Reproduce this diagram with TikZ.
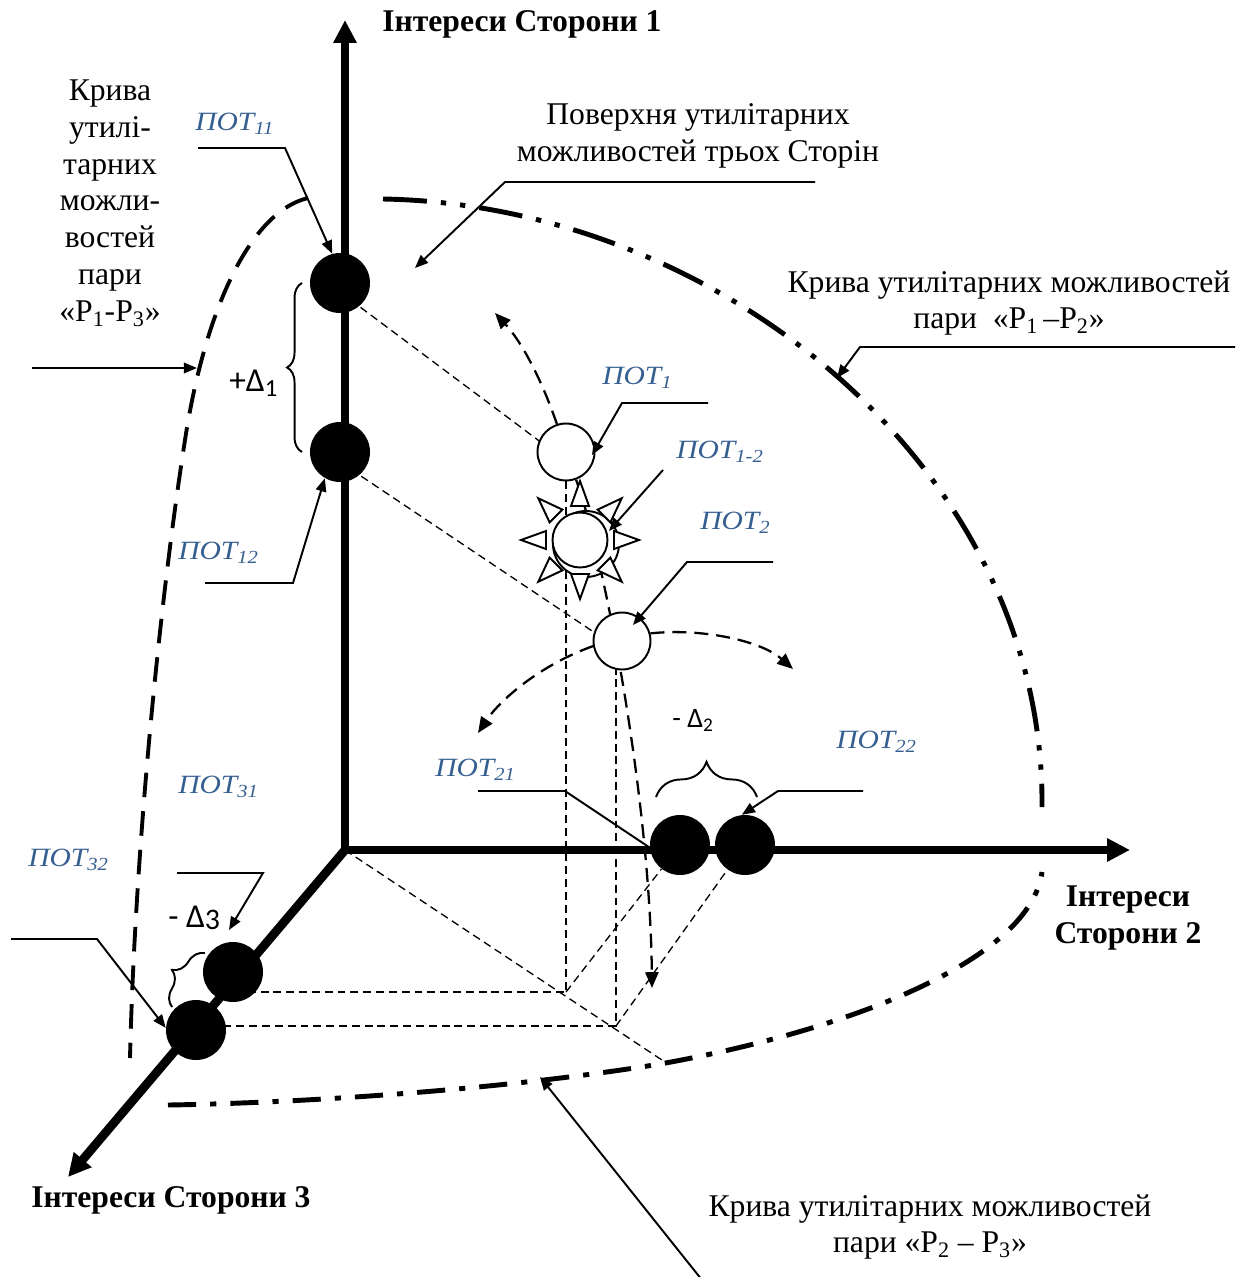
\documentclass[tikz,border=0pt]{standalone}
\usepackage{fontspec}
\setmainfont{Liberation Serif}
\newfontfamily\potfont[FakeStretch=1.12]{Liberation Serif}
\newfontfamily\dfont{Carlito}
\usetikzlibrary{arrows.meta,decorations.pathreplacing,calc}
\definecolor{potblue}{RGB}{54,95,145}
\pgfdeclarelayer{bg}
\pgfsetlayers{bg,main}
\begin{document}
\begin{tikzpicture}[x=0.02cm,y=-0.02cm,
  axis/.style={line width=5pt},
  ptr/.style={line width=1.1pt,-{Triangle[length=7.5pt,width=6pt]}},
  lead/.style={line width=1.1pt},
  proj/.style={line width=0.75pt,dash pattern=on 4.5pt off 2.8pt},
  move/.style={line width=1.3pt,dash pattern=on 8pt off 4.5pt,-{Triangle[length=9pt,width=7.5pt]}},
  blk/.style={circle,fill=black,minimum size=1.2cm,inner sep=0pt},
  wht/.style={circle,draw,fill=white,line width=1.1pt,minimum size=1.14cm,inner sep=0pt},
  txt/.style={font=\fontsize{18}{21}\selectfont,align=center,inner sep=0pt},
  ttl/.style={font=\fontsize{18}{21}\selectfont\bfseries,align=center,inner sep=0pt},
  pot/.style={font=\potfont\itshape\fontsize{15}{16}\selectfont,text=potblue,anchor=west,inner sep=0pt},
  dlt/.style={font=\dfont\fontsize{16}{18}\selectfont,anchor=west,inner sep=0pt},
  dltb/.style={font=\dfont\fontsize{19}{21}\selectfont,anchor=west,inner sep=0pt},
  curveA/.style={line width=2.8pt,dash pattern=on 25pt off 8pt on 3pt off 8pt on 3pt off 8pt},
  curveB/.style={line width=2.8pt,dash pattern=on 16pt off 8pt on 3.5pt off 8pt},
  curveC/.style={line width=2.2pt,dash pattern=on 14pt off 8pt},
  brc/.style={decorate,line width=1.1pt}]
\useasboundingbox (0,0) rectangle (1249,1277);

% axes end points and projection corners
\coordinate (O) at (345,850);
\coordinate (ytip) at (345,20);
\coordinate (xtip) at (1130,850);
\coordinate (ztip) at (68,1177);
\coordinate (c1) at (566,992);
\coordinate (c2) at (616,1026);
\coordinate (c3) at (668,1064);

% points on the axes
\node[blk] (p11) at (340,283) {};
\node[blk] (p12) at (340,452) {};
\node[blk] (p21) at (680,845) {};
\node[blk] (p22) at (745,845) {};
\node[blk] (p31) at (233,972) {};
\node[blk] (p32) at (196,1030) {};

% optimal points
\node[wht] (pot1) at (566,452) {};
\node[wht] (pot2) at (622,641) {};
\coordinate (sun) at (580,540);
\node[circle,draw,fill=white,line width=1.1pt,minimum size=1.32cm,inner sep=0pt] (sunring) at (586,544) {};
\foreach \a in {0,45,...,315}{
  \begin{scope}[shift={(sun)},rotate=\a]
    \draw[line width=1.1pt,fill=white] (34,-9) -- (59,0) -- (34,9) -- cycle;
  \end{scope}}
\node[circle,draw,fill=white,line width=1.1pt,minimum size=1.1cm,inner sep=0pt] (sunc) at (sun) {};

\begin{pgfonlayer}{bg}
  % projection lines
  \draw[proj] ($(p11)+(0,9)$) -- ($(pot1)+(0,9)$);
  \draw[proj] ($(p12)+(0,10)$) -- ($(pot2)+(0,10)$);
  \draw[proj] (pot1) -- (c1) -- ($(p31)+(0,20)$);
  \draw[proj] ($(pot2)+(-6,0)$) -- (c2) -- ($(p32)+(0,-4)$);
  \draw[proj] (O) -- (c3);
  \draw[proj] (c1) -- (p21);
  \draw[proj] (c2) -- (p22);
  % utility possibility curves
  \draw[curveA] (383,199) .. controls (720,205) and (1045,470) .. (1042,807);
  \draw[curveB] (168,1105) .. controls (300,1103) and (500,1090) .. (660,1064)
                .. controls (850,1030) and (1030,960) .. (1042,872);
  \draw[curveC] (308,198) .. controls (250,212) and (205,310) .. (185,440)
                .. controls (160,600) and (135,850) .. (130,1058);
  % shifts of the optimal point
  \draw[move] (pot1.108) .. controls (540,375) and (520,340) .. (495,313);
  \draw[move] (pot1.290) .. controls (605,560) and (650,800) .. (652,988);
  \draw[move] (pot2.190) .. controls (540,665) and (500,700) .. (478,733);
  \draw[move] (pot2.15) .. controls (700,628) and (760,640) .. (793,669);
  % axes
  \draw[axis,{Triangle[length=13pt,width=12.5pt]}-{Triangle[length=13pt,width=12.5pt]}] (ytip) -- (O) -- (xtip);
  \draw[axis,-{Triangle[length=13pt,width=12.5pt]}] (O) -- (ztip);
\end{pgfonlayer}

% axis titles
\node[ttl] (t1) at (522,24) {Інтереси Сторони 1};
\node[ttl] (t2) at (1128,918) {Інтереси\\Сторони 2};
\node[ttl] (t3) at (171,1200) {Інтереси Сторони 3};

% curve and surface captions
\node[txt] (k13) at (110,203) {Крива\\утилі-\\тарних\\можли-\\востей\\пари\\«Р\textsubscript{1}-Р\textsubscript{3}»};
\node[txt] (surf) at (698,136) {Поверхня утилітарних\\можливостей трьох Сторін};
\node[txt] (k12) at (1009,303) {Крива утилітарних можливостей\\пари\ \ «Р\textsubscript{1}\,–Р\textsubscript{2}»};
\node[txt] (k23) at (930,1227) {Крива утилітарних можливостей\\пари «Р\textsubscript{2} – Р\textsubscript{3}»};

% point labels
\node[pot] (l11) at (195,124) {ПОТ\textsubscript{11}};
\node[pot] (l1) at (602,378) {ПОТ\textsubscript{1}};
\node[pot] (l12c) at (676,452) {ПОТ\textsubscript{1-2}};
\node[pot] (l2) at (700,523) {ПОТ\textsubscript{2}};
\node[pot] (l12) at (178,553) {ПОТ\textsubscript{12}};
\node[pot] (l22) at (836,742) {ПОТ\textsubscript{22}};
\node[pot] (l21) at (435,770) {ПОТ\textsubscript{21}};
\node[pot] (l31) at (178,787) {ПОТ\textsubscript{31}};
\node[pot] (l32) at (28,860) {ПОТ\textsubscript{32}};

% increments
\node[dltb] (d1) at (229,383) {+Δ\raisebox{-0.3ex}{\fontsize{14}{14}\selectfont 1}};
\node[dlt] (d2) at (672,720) {- Δ\raisebox{-0.3ex}{\fontsize{11}{11}\selectfont 2}};
\node[dltb] (d3) at (168,918) {- Δ\raisebox{-0.15ex}{\fontsize{17}{17}\selectfont 3}};
\draw[brc,decoration={brace,amplitude=8.5pt}] (302,452) -- (302,283);
\draw[brc,decoration={brace,amplitude=20pt}] (656,797) -- (757,797);
\draw[brc,decoration={brace,amplitude=11pt}] (172,1007) -- (205,953);

% leader lines
\draw[ptr] (198,148) -- (285,148) -- (p11.105);
\draw[ptr] (205,583) -- (293,583) -- (p12.240);
\draw[ptr] (708,403) -- (622,403) -- ($(pot1)+(26,3)$);
\draw[ptr] (663,470) -- ($(sun)+(29,-9)$);
\draw[ptr] (773,562) -- (687,562) -- ($(pot2)+(11,-16)$);
\draw[lead] (478,791) -- (565,791) -- (p21.185);
\draw[ptr] (863,791) -- (778,791) -- (p22.96);
\draw[ptr] (11,939) -- (97,939) -- (p32.176);
\draw[ptr] (177,873) -- (263,873) -- ($(p31)+(-4,-42)$);
\coordinate (surftip) at (415,268);
\draw[ptr] (815,182) -- (505,182) -- (surftip);
\coordinate (k12tip) at (837,378);
\draw[ptr] (1235,347) -- (860,347) -- (k12tip);
\coordinate (k13tail) at (32,368);
\coordinate (k13tip) at (197,368);
\draw[ptr] (k13tail) -- (k13tip);
\coordinate (k23tail) at (702,1280);
\coordinate (k23tip) at (540,1077);
\draw[ptr] (k23tail) -- (k23tip);
\end{tikzpicture}
\end{document}
